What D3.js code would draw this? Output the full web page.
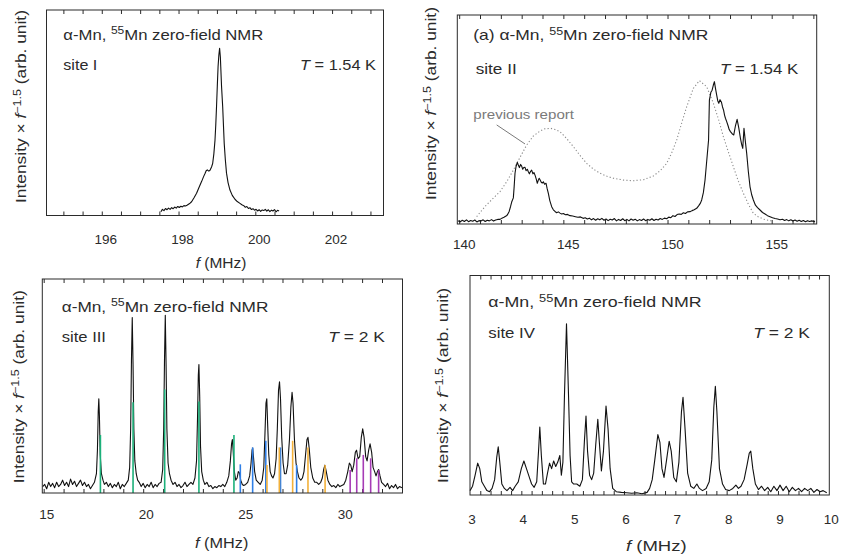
<!DOCTYPE html>
<html>
<head>
<meta charset="utf-8">
<script src="https://cdn.jsdelivr.net/npm/d3@7"></script>
<style>
  body { margin: 0; background: #fff; }
  svg { font-family: 'Liberation Sans', Arial, Helvetica, sans-serif; }
</style>
</head>
<body>
<div id="chart"></div>
<script>
// spectra: [f (MHz), intensity x f^-1.5 (arb. unit)]

// site I, T = 1.54 K
const siteI = [
  [197.54,0.018],[197.58,0.030],[197.62,0.024],[197.66,0.034],[197.70,0.028],[197.74,0.036],[197.78,0.030],
  [197.82,0.038],[197.86,0.033],[197.90,0.041],[197.94,0.036],[197.98,0.044],[198.02,0.039],[198.06,0.045],
  [198.10,0.042],[198.14,0.048],[198.18,0.046],[198.22,0.050],[198.26,0.055],[198.30,0.060],[198.34,0.067],
  [198.40,0.085],[198.47,0.108],[198.53,0.135],[198.60,0.165],[198.65,0.188],[198.69,0.204],[198.72,0.218],
  [198.75,0.222],[198.79,0.216],[198.82,0.220],[198.86,0.236],[198.89,0.254],[198.92,0.300],[198.95,0.367],
  [198.97,0.440],[198.99,0.530],[199.01,0.630],[199.03,0.724],[199.05,0.780],[199.07,0.814],[199.09,0.770],
  [199.10,0.724],[199.12,0.630],[199.15,0.530],[199.17,0.440],[199.19,0.351],[199.22,0.270],[199.25,0.206],
  [199.29,0.160],[199.34,0.124],[199.40,0.098],[199.47,0.079],[199.53,0.068],[199.60,0.059],[199.65,0.052],
  [199.70,0.048],[199.74,0.040],[199.78,0.044],[199.82,0.034],[199.86,0.038],[199.90,0.029],[199.94,0.033],
  [199.98,0.026],[200.02,0.030],[200.06,0.022],[200.10,0.028],[200.14,0.020],[200.18,0.027],[200.22,0.024],
  [200.26,0.030],[200.30,0.021],[200.34,0.028],[200.38,0.019],[200.42,0.026],[200.46,0.022],[200.50,0.029],
  [200.54,0.018],[200.58,0.025],[200.62,0.022]
];

// site II, T = 1.54 K
const siteII = [
  [139.95,0.016],[140.05,0.010],[140.15,0.018],[140.25,0.012],[140.35,0.020],[140.45,0.011],[140.55,0.017],
  [140.65,0.013],[140.75,0.019],[140.85,0.010],[140.95,0.016],[141.05,0.014],[141.15,0.020],[141.25,0.012],
  [141.35,0.018],[141.45,0.015],[141.55,0.021],[141.65,0.014],[141.75,0.019],[141.85,0.022],[141.96,0.022],
  [142.05,0.028],[142.15,0.032],[142.25,0.038],[142.31,0.043],[142.40,0.060],[142.47,0.085],[142.52,0.105],
  [142.60,0.125],[142.64,0.180],[142.68,0.243],[142.73,0.275],[142.79,0.295],[142.84,0.282],[142.89,0.270],
  [142.95,0.285],[143.00,0.277],[143.05,0.262],[143.10,0.270],[143.16,0.271],[143.21,0.255],[143.27,0.262],
  [143.32,0.250],[143.37,0.240],[143.43,0.252],[143.48,0.258],[143.54,0.240],[143.59,0.246],[143.64,0.234],
  [143.70,0.215],[143.75,0.195],[143.80,0.210],[143.84,0.219],[143.88,0.212],[143.94,0.200],[143.99,0.196],
  [144.04,0.202],[144.10,0.190],[144.17,0.195],[144.22,0.170],[144.28,0.147],[144.35,0.112],[144.44,0.083],
  [144.52,0.068],[144.60,0.060],[144.68,0.054],[144.76,0.058],[144.84,0.052],[144.92,0.048],[145.00,0.050],
  [145.10,0.044],[145.20,0.046],[145.32,0.040],[145.45,0.038],[145.58,0.035],[145.70,0.032],[145.82,0.034],
  [145.95,0.027],[146.05,0.030],[146.15,0.024],[146.25,0.028],[146.35,0.020],[146.45,0.026],[146.55,0.018],
  [146.65,0.025],[146.75,0.020],[146.85,0.027],[146.95,0.018],[147.05,0.024],[147.15,0.016],[147.25,0.023],
  [147.35,0.019],[147.45,0.026],[147.55,0.015],[147.65,0.022],[147.75,0.017],[147.85,0.025],[147.95,0.016],
  [148.05,0.022],[148.15,0.015],[148.25,0.024],[148.35,0.018],[148.45,0.023],[148.55,0.015],[148.65,0.021],
  [148.75,0.017],[148.85,0.024],[148.95,0.016],[149.05,0.022],[149.15,0.018],[149.25,0.025],[149.35,0.017],
  [149.45,0.023],[149.55,0.019],[149.65,0.026],[149.75,0.022],[149.85,0.028],[149.96,0.025],[150.06,0.033],
  [150.16,0.030],[150.26,0.040],[150.36,0.036],[150.46,0.045],[150.56,0.048],[150.66,0.046],[150.76,0.054],
  [150.86,0.050],[150.96,0.058],[151.08,0.059],[151.18,0.064],[151.28,0.068],[151.40,0.075],[151.50,0.088],
  [151.58,0.100],[151.64,0.115],[151.72,0.150],[151.80,0.210],[151.88,0.300],[151.97,0.402],[152.01,0.593],
  [152.08,0.630],[152.14,0.640],[152.20,0.665],[152.25,0.681],[152.30,0.650],[152.36,0.617],[152.41,0.590],
  [152.46,0.578],[152.52,0.595],[152.59,0.582],[152.64,0.560],[152.69,0.545],[152.74,0.520],[152.78,0.506],
  [152.84,0.490],[152.91,0.469],[152.96,0.452],[153.02,0.442],[153.10,0.432],[153.18,0.426],[153.26,0.470],
  [153.34,0.501],[153.42,0.460],[153.50,0.410],[153.56,0.380],[153.61,0.362],[153.67,0.458],[153.73,0.400],
  [153.80,0.338],[153.88,0.250],[153.96,0.178],[154.04,0.140],[154.12,0.115],[154.22,0.090],[154.32,0.078],
  [154.44,0.067],[154.56,0.055],[154.68,0.048],[154.80,0.040],[154.92,0.035],[155.04,0.030],[155.16,0.026],
  [155.28,0.024],[155.40,0.020],[155.52,0.023],[155.62,0.017],[155.72,0.021],[155.82,0.015],[155.92,0.020],
  [156.02,0.014],[156.12,0.019],[156.22,0.013],[156.32,0.018],[156.42,0.012],[156.52,0.017],[156.62,0.011],
  [156.72,0.016],[156.82,0.012],[156.92,0.015],[157.08,0.011]
];

// site II, previous report (dotted)
const siteIIPrevious = [
  [140.84,0.035],[141.00,0.055],[141.30,0.090],[141.60,0.120],[141.96,0.155],[142.30,0.205],[142.60,0.258],
  [142.90,0.315],[143.24,0.378],[143.55,0.420],[143.88,0.445],[144.10,0.455],[144.39,0.458],[144.60,0.452],
  [144.84,0.442],[145.15,0.410],[145.48,0.370],[145.80,0.328],[146.12,0.290],[146.45,0.262],[146.76,0.243],
  [147.10,0.228],[147.40,0.219],[147.90,0.210],[148.36,0.207],[148.85,0.212],[149.32,0.230],[149.65,0.255],
  [149.96,0.290],[150.20,0.340],[150.44,0.402],[150.70,0.490],[150.92,0.561],[151.24,0.649],[151.53,0.686],
  [151.88,0.657],[152.20,0.578],[152.45,0.500],[152.68,0.418],[152.92,0.345],[153.16,0.274],[153.40,0.205],
  [153.64,0.147],[153.88,0.095],[154.12,0.051],[154.35,0.035],[154.58,0.024],[154.82,0.018],[155.06,0.014]
];

// site III, T = 2 K
const siteIII = [
  [14.95,0.030],[15.05,0.040],[15.15,0.020],[15.25,0.050],[15.35,0.030],[15.45,0.045],[15.55,0.025],
  [15.65,0.050],[15.75,0.030],[15.85,0.040],[15.95,0.060],[16.05,0.035],[16.15,0.050],[16.25,0.030],
  [16.35,0.065],[16.45,0.040],[16.55,0.055],[16.65,0.030],[16.75,0.045],[16.85,0.060],[16.95,0.035],
  [17.05,0.050],[17.15,0.030],[17.25,0.040],[17.35,0.020],[17.45,0.035],[17.55,0.050],[17.65,0.090],
  [17.70,0.200],[17.74,0.380],[17.77,0.440],[17.80,0.360],[17.84,0.180],[17.90,0.090],[17.98,0.060],
  [18.05,0.040],[18.15,0.050],[18.25,0.030],[18.35,0.045],[18.45,0.025],[18.55,0.040],[18.65,0.030],
  [18.75,0.050],[18.85,0.020],[18.95,0.040],[19.05,0.030],[19.15,0.045],[19.25,0.060],[19.32,0.120],
  [19.37,0.300],[19.41,0.620],[19.45,0.820],[19.49,0.600],[19.53,0.300],[19.58,0.150],[19.65,0.090],
  [19.72,0.060],[19.80,0.050],[19.90,0.030],[20.00,0.045],[20.10,0.025],[20.20,0.040],[20.30,0.030],
  [20.40,0.050],[20.50,0.025],[20.60,0.040],[20.70,0.030],[20.80,0.045],[20.90,0.050],[20.98,0.110],
  [21.03,0.300],[21.07,0.620],[21.11,0.830],[21.15,0.600],[21.19,0.300],[21.25,0.140],[21.32,0.090],
  [21.40,0.060],[21.50,0.040],[21.60,0.050],[21.70,0.030],[21.80,0.040],[21.90,0.025],[22.00,0.035],
  [22.10,0.050],[22.20,0.030],[22.30,0.040],[22.40,0.050],[22.50,0.040],[22.60,0.070],[22.68,0.150],
  [22.73,0.350],[22.77,0.550],[22.80,0.600],[22.84,0.450],[22.88,0.220],[22.94,0.100],[23.02,0.060],
  [23.10,0.040],[23.20,0.050],[23.30,0.030],[23.40,0.035],[23.50,0.020],[23.60,0.030],[23.70,0.025],
  [23.80,0.035],[23.90,0.030],[24.00,0.040],[24.10,0.030],[24.20,0.050],[24.30,0.080],[24.38,0.150],
  [24.44,0.230],[24.48,0.250],[24.52,0.200],[24.58,0.100],[24.65,0.060],[24.72,0.070],[24.78,0.100],
  [24.83,0.095],[24.90,0.060],[24.98,0.040],[25.05,0.035],[25.15,0.040],[25.25,0.050],[25.35,0.080],
  [25.42,0.140],[25.47,0.200],[25.50,0.210],[25.54,0.170],[25.60,0.100],[25.68,0.060],[25.78,0.050],
  [25.88,0.040],[25.98,0.060],[26.06,0.120],[26.12,0.280],[26.17,0.420],[26.21,0.440],[26.25,0.330],
  [26.31,0.180],[26.38,0.100],[26.45,0.080],[26.52,0.070],[26.60,0.090],[26.68,0.160],[26.74,0.300],
  [26.80,0.480],[26.85,0.520],[26.90,0.440],[26.96,0.260],[27.03,0.140],[27.10,0.090],[27.18,0.090],
  [27.26,0.130],[27.35,0.250],[27.42,0.400],[27.48,0.470],[27.53,0.420],[27.60,0.250],[27.68,0.140],
  [27.75,0.100],[27.83,0.070],[27.92,0.060],[28.00,0.070],[28.08,0.100],[28.16,0.180],[28.23,0.250],
  [28.28,0.260],[28.34,0.210],[28.42,0.120],[28.52,0.070],[28.62,0.050],[28.72,0.050],[28.82,0.040],
  [28.92,0.050],[29.00,0.070],[29.07,0.110],[29.13,0.130],[29.20,0.100],[29.28,0.060],[29.38,0.040],
  [29.48,0.030],[29.58,0.035],[29.68,0.025],[29.78,0.040],[29.88,0.030],[29.98,0.035],[30.08,0.040],
  [30.18,0.060],[30.28,0.100],[30.36,0.140],[30.43,0.130],[30.50,0.100],[30.58,0.130],[30.66,0.190],
  [30.72,0.200],[30.80,0.160],[30.88,0.170],[30.96,0.260],[31.03,0.300],[31.10,0.260],[31.18,0.170],
  [31.25,0.150],[31.33,0.200],[31.40,0.230],[31.48,0.190],[31.55,0.120],[31.63,0.100],[31.70,0.080],
  [31.77,0.100],[31.83,0.110],[31.90,0.080],[31.98,0.050],[32.08,0.040],[32.18,0.030],[32.28,0.045],
  [32.38,0.020],[32.48,0.035],[32.58,0.025],[32.68,0.040],[32.78,0.020],[32.88,0.030],[33.00,0.025]
];

// site III calculated lines, one set per colour
const siteIIIGreen  = [[17.85,0.271],[19.49,0.424],[21.08,0.484],[22.80,0.427],[24.56,0.271]];
const siteIIIBlue   = [[24.88,0.134],[25.50,0.213],[26.16,0.244],[26.90,0.213],[27.71,0.131]];
const siteIIIOrange = [[26.22,0.131],[26.84,0.213],[27.51,0.244],[28.28,0.213],[29.14,0.131]];
const siteIIIPurple = [[30.40,0.107],[30.73,0.162],[31.06,0.178],[31.43,0.162],[31.83,0.107]];

// site IV, T = 2 K
const siteIV = [
  [3.00,0.020],[3.05,0.040],[3.10,0.090],[3.15,0.145],[3.19,0.120],[3.23,0.060],[3.28,0.040],[3.33,0.020],
  [3.38,0.015],[3.43,0.030],[3.48,0.070],[3.52,0.170],[3.55,0.220],[3.58,0.150],[3.62,0.050],[3.67,0.030],
  [3.72,0.020],[3.78,0.035],[3.83,0.020],[3.88,0.040],[3.94,0.060],[4.00,0.120],[4.05,0.155],[4.10,0.120],
  [4.15,0.085],[4.20,0.050],[4.25,0.035],[4.30,0.060],[4.34,0.220],[4.36,0.310],[4.39,0.180],[4.43,0.050],
  [4.47,0.050],[4.51,0.100],[4.55,0.145],[4.59,0.120],[4.63,0.155],[4.67,0.130],[4.71,0.150],[4.75,0.180],
  [4.78,0.090],[4.81,0.150],[4.84,0.450],[4.88,0.780],[4.92,0.450],[4.95,0.180],[4.98,0.060],[5.02,0.050],
  [5.08,0.050],[5.14,0.040],[5.19,0.070],[5.23,0.250],[5.26,0.360],[5.29,0.200],[5.33,0.090],[5.37,0.070],
  [5.41,0.100],[5.45,0.230],[5.49,0.345],[5.52,0.240],[5.56,0.110],[5.60,0.200],[5.65,0.405],[5.69,0.300],
  [5.73,0.120],[5.78,0.030],[5.85,0.015],[5.95,0.012],[6.05,0.010],[6.15,0.008],[6.25,0.010],[6.35,0.006],
  [6.45,0.012],[6.50,0.030],[6.55,0.070],[6.60,0.160],[6.66,0.275],[6.70,0.240],[6.74,0.120],[6.78,0.080],
  [6.83,0.160],[6.88,0.245],[6.92,0.200],[6.97,0.080],[7.02,0.060],[7.07,0.150],[7.12,0.380],[7.15,0.445],
  [7.19,0.300],[7.24,0.100],[7.30,0.040],[7.36,0.030],[7.42,0.050],[7.47,0.030],[7.53,0.020],[7.60,0.030],
  [7.66,0.060],[7.71,0.160],[7.75,0.400],[7.78,0.495],[7.81,0.380],[7.86,0.120],[7.92,0.050],[7.98,0.025],
  [8.05,0.020],[8.12,0.030],[8.18,0.045],[8.23,0.030],[8.28,0.040],[8.34,0.070],[8.40,0.140],[8.44,0.190],
  [8.47,0.200],[8.51,0.120],[8.56,0.050],[8.62,0.025],[8.68,0.040],[8.74,0.020],[8.80,0.035],[8.86,0.015],
  [8.92,0.040],[8.98,0.020],[9.04,0.045],[9.10,0.020],[9.16,0.040],[9.22,0.015],[9.28,0.035],[9.34,0.020],
  [9.40,0.030],[9.46,0.015],[9.52,0.030],[9.58,0.020],[9.64,0.030],[9.70,0.012],[9.76,0.025],[9.82,0.015],
  [9.88,0.020],[9.95,0.010]
];

// tick labels
const siteITicks   = [196, 198, 200, 202];
const siteIITicks  = [140, 145, 150, 155];
const siteIIITicks = [15, 20, 25, 30];
const siteIVTicks  = [3, 4, 5, 6, 7, 8, 9, 10];

const ink = '#2b2b2b';
const lineColors = {green: '#1cb07a', blue: '#2f7fe6', orange: '#f3b13a', purple: '#a63bb6'};

const svg = d3.select('#chart').append('svg')
  .attr('width', 842)
  .attr('height', 556);

// text made of plain / superscript / italic pieces
function richText(g, parts, opts) {
  const t = g.append('text')
    .attr('x', opts.x)
    .attr('y', opts.y)
    .attr('text-anchor', opts.anchor || 'start')
    .style('font-size', opts.size + 'px')
    .style('fill', opts.fill || ink);
  if (opts.transform) t.attr('transform', opts.transform);
  let raised = false;
  parts.forEach(p => {
    const s = t.append('tspan').text(p.t);
    if (p.sup) { s.attr('dy', -5.5).style('font-size', '72%'); raised = true; }
    else if (raised) { s.attr('dy', 5.5); raised = false; }
    if (p.it) s.style('font-style', 'italic');
  });
  if (opts.width) t.attr('textLength', opts.width).attr('lengthAdjust', 'spacingAndGlyphs');
  return t;
}

const titleParts = [{t: 'α-Mn, '}, {t: '55', sup: true}, {t: 'Mn zero-field NMR'}];
const yLabelParts = [{t: 'Intensity × '}, {t: 'f', it: true}, {t: '−1.5', sup: true}, {t: ' (arb. unit)'}];
const xLabelParts = [{t: 'f', it: true}, {t: ' (MHz)'}];

function tickValues(domain, step) {
  const n0 = Math.ceil(domain[0] / step - 1e-6), n1 = Math.floor(domain[1] / step + 1e-6);
  return d3.range(n0, n1 + 1).map(k => +(k * step).toFixed(4));
}

function drawPanel(p) {
  const x = d3.scaleLinear().domain(p.domain).range([p.left, p.right]);
  const y = d3.scaleLinear().domain([0, 1]).range([p.bottom, p.top]);
  const g = svg.append('g');

  const ticks = tickValues(p.domain, p.minor).filter(v => x(v) > p.left + 1 && x(v) < p.right - 1);

  const bottomAxis = d3.axisBottom(x).tickValues(ticks).tickSizeInner(-4).tickSizeOuter(0).tickFormat('');
  const bAx = g.append('g').attr('transform', `translate(0,${p.bottom})`).call(bottomAxis);
  bAx.select('.domain').remove();
  bAx.selectAll('line').attr('stroke', ink);

  const topAxis = d3.axisTop(x).tickValues(ticks).tickSizeInner(-4).tickSizeOuter(0).tickFormat('');
  const tAx = g.append('g').attr('transform', `translate(0,${p.top})`).call(topAxis);
  tAx.select('.domain').remove();
  tAx.selectAll('line').attr('stroke', ink);

  // tick labels (kept even where the tick sits on the frame edge)
  g.selectAll(null).data(p.labels).enter().append('text')
    .attr('x', d => x(d) + p.labelShift)
    .attr('y', p.bottom + p.labelGap)
    .attr('text-anchor', 'middle')
    .style('font-size', '13.5px')
    .style('fill', ink)
    .text(d => d);

  const line = d3.line().x(d => x(d[0])).y(d => y(d[1]));

  if (p.previous) {
    g.append('path').datum(p.previous)
      .attr('d', line)
      .attr('fill', 'none')
      .attr('stroke', '#8a8a8a')
      .attr('stroke-width', 1.1)
      .attr('stroke-dasharray', '1.2,2.2');
  }

  g.append('path').datum(p.data)
    .attr('d', line)
    .attr('fill', 'none')
    .attr('stroke', '#111')
    .attr('stroke-width', 1.1)
    .attr('stroke-linejoin', 'round');

  (p.sticks || []).forEach(s => {
    g.selectAll(null).data(s.values).enter().append('line')
      .attr('x1', d => x(d[0])).attr('x2', d => x(d[0]))
      .attr('y1', y(0)).attr('y2', d => y(d[1]))
      .attr('stroke', s.color)
      .attr('stroke-width', 1.6);
  });

  if (p.note) {
    g.append('line')
      .attr('x1', x(p.note.from[0])).attr('y1', y(p.note.from[1]))
      .attr('x2', x(p.note.to[0])).attr('y2', y(p.note.to[1]))
      .attr('stroke', '#7a7a7a').attr('stroke-width', 1);
    richText(g, [{t: p.note.text}], {x: x(p.note.at[0]), y: y(p.note.at[1]), size: 13.5, fill: '#7a7a7a', width: 100.7});
  }

  // frame
  g.append('rect')
    .attr('x', p.left).attr('y', p.top)
    .attr('width', p.right - p.left).attr('height', p.bottom - p.top)
    .attr('fill', 'none').attr('stroke', ink).attr('stroke-width', 1);

  // labels
  richText(g, p.titleParts, {x: p.title[0], y: p.title[1], size: 14.5, width: p.title[2]});
  richText(g, [{t: p.site}], {x: p.siteAt[0], y: p.siteAt[1], size: 14.5, width: p.siteAt[2]});
  richText(g, [{t: 'T', it: true}, {t: ' = ' + p.temp}], {x: p.tempAt[0], y: p.tempAt[1], size: 14.5, width: p.tempAt[2], anchor: 'end'});
  richText(g, yLabelParts, {x: 0, y: 0, size: 14.5, width: p.yLabel[2], anchor: 'middle',
    transform: `translate(${p.yLabel[0]},${p.yLabel[1]}) rotate(-90)`});
  if (p.xLabel) {
    richText(g, xLabelParts, {x: p.xLabel[0], y: p.xLabel[1], size: 14.5, width: p.xLabel[2], anchor: 'middle'});
  }
}

drawPanel({
  left: 46.5, right: 383.5, top: 10, bottom: 215.5,
  domain: [194.56, 203.34], minor: 0.5, labels: siteITicks, labelGap: 28.5, labelShift: 4,
  data: siteI,
  titleParts: titleParts, title: [63.3, 39.5, 200],
  site: 'site I', siteAt: [63.3, 69.5, 34],
  temp: '1.54 K', tempAt: [376, 69.5, 76],
  yLabel: [26, 106.5, 193], xLabel: [221, 268, 50.7]
});

drawPanel({
  left: 457.3, right: 816.7, top: 15, bottom: 224,
  domain: [139.91, 157.16], minor: 1, labels: siteIITicks, labelGap: 25, labelShift: 5,
  data: siteII, previous: siteIIPrevious,
  note: {text: 'previous report', at: [140.68, 0.502], from: [141.80, 0.474], to: [143.16, 0.383]},
  titleParts: [{t: '(a) '}].concat(titleParts), title: [473.3, 40, 235],
  site: 'site II', siteAt: [475.7, 74, 41],
  temp: '1.54 K', tempAt: [798.3, 74, 78.3],
  yLabel: [436, 103.5, 193]
});

drawPanel({
  left: 42.3, right: 402.5, top: 279, bottom: 493,
  domain: [14.93, 33.03], minor: 1, labels: siteIIITicks, labelGap: 26, labelShift: 3,
  data: siteIII,
  sticks: [
    {values: siteIIIGreen, color: lineColors.green},
    {values: siteIIIBlue, color: lineColors.blue},
    {values: siteIIIOrange, color: lineColors.orange},
    {values: siteIIIPurple, color: lineColors.purple}
  ],
  titleParts: titleParts, title: [61.7, 311.7, 206.7],
  site: 'site III', siteAt: [61.7, 341.7, 44.3],
  temp: '2 K', tempAt: [385, 341.7, 56.7],
  yLabel: [24, 386.7, 193], xLabel: [221.7, 548, 53.3]
});

drawPanel({
  left: 470, right: 829.3, top: 275.5, bottom: 495,
  domain: [3, 10], minor: 0.2, labels: siteIVTicks, labelGap: 29, labelShift: 2,
  data: siteIV,
  titleParts: titleParts, title: [488.3, 307.3, 213.3],
  site: 'site IV', siteAt: [488.3, 338.3, 46.7],
  temp: '2 K', tempAt: [810, 338.3, 56.7],
  yLabel: [448, 385.5, 195], xLabel: [656.3, 551, 60.7]
});
</script>
</body>
</html>
